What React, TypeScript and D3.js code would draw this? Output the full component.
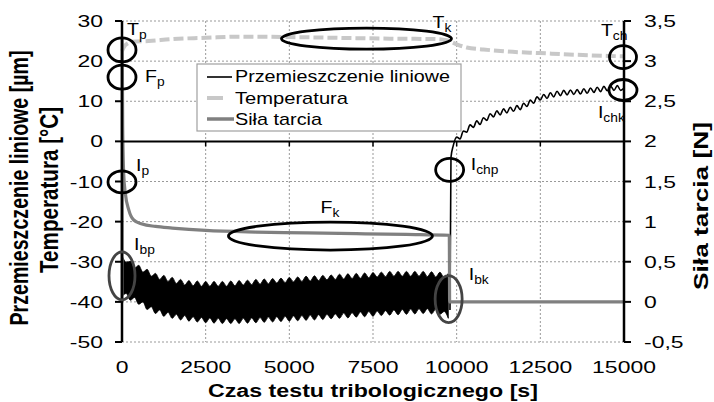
import React from 'react'
import * as d3 from 'd3'

// Przemieszczenie liniowe (µm) - pasmo oscylacji w czasie 0..9750 s, co 125 s
const bandStep = 125
const bandUpper = [
  -28.4, -30.1, -29.9, -31.6, -30.9, -32.6, -31.9, -33.6, -32.9, -34.4,
  -33.4, -34.9, -33.9, -35.4, -34.4, -35.8, -34.7, -36.0, -34.8, -36.1,
  -34.9, -36.1, -34.9, -36.1, -34.9, -36.1, -34.8, -36.0, -34.7, -35.8,
  -34.6, -35.7, -34.4, -35.6, -34.3, -35.5, -34.2, -35.3, -34.1, -35.2,
  -33.9, -35.0, -33.8, -34.9, -33.6, -34.8, -33.5, -34.7, -33.4, -34.5,
  -33.3, -34.4, -33.1, -34.3, -33.0, -34.2, -32.9, -34.1, -32.8, -34.0,
  -32.7, -33.8, -32.6, -33.7, -32.4, -33.6, -32.4, -33.6, -32.4, -33.6,
  -32.4, -33.6, -32.4, -33.7, -32.5, -33.8, -32.6, -34.0, -32.9,
]
const bandLower = [
  -38.6, -37.9, -39.6, -38.9, -40.6, -40.0, -41.9, -41.2, -42.9, -42.0,
  -43.6, -42.6, -44.1, -43.1, -44.5, -43.4, -44.8, -43.7, -45.0, -43.9,
  -45.2, -44.0, -45.3, -44.1, -45.4, -44.2, -45.4, -44.2, -45.4, -44.1,
  -45.3, -44.0, -45.2, -43.9, -45.1, -43.8, -45.0, -43.7, -44.9, -43.6,
  -44.8, -43.5, -44.7, -43.4, -44.6, -43.3, -44.5, -43.2, -44.4, -43.1,
  -44.2, -43.0, -44.1, -42.8, -44.0, -42.7, -43.8, -42.5, -43.7, -42.4,
  -43.6, -42.3, -43.4, -42.2, -43.3, -42.0, -43.2, -41.9, -43.1, -41.8,
  -43.0, -41.7, -42.9, -41.7, -43.0, -41.8, -43.1, -42.4, -44.1,
]

// skok i narastanie po zatrzymaniu (µm)
const jumpTimes = [9800, 9830, 9900]
const jumpValues = [-42, -4, -1]
const riseStart = 10000
const riseStep = 100
const riseValues = [
  1.1, 0.6, 2.6, 2.3, 4.1, 3.5, 5.1, 4.2, 5.9, 5.2,
  6.9, 6.1, 7.6, 6.6, 8.1, 7.1, 8.5, 7.5, 8.9, 7.9,
  9.5, 8.7, 10.3, 9.5, 11.1, 10.3, 11.7, 10.7, 12.1, 11.1,
  12.5, 11.4, 12.7, 11.6, 12.8, 11.7, 12.9, 11.8, 13.1, 12.0,
  13.3, 12.2, 13.5, 12.4, 13.7, 12.6, 13.8, 12.7, 13.9, 12.7,
  13.3,
]

// Temperatura (°C)
const tempTimes = [0, 100, 300, 800, 1500, 2500, 3500, 5000, 6500, 8000, 9300, 9700, 10000, 10300, 10800, 11500, 12500, 13500, 14500, 15000]
const tempValues = [22.5, 24.0, 24.8, 25.0, 25.5, 25.8, 26.1, 26.0, 25.8, 25.6, 25.5, 25.2, 24.2, 23.4, 22.9, 22.4, 22.0, 21.6, 21.3, 21.2]

// Siła tarcia (N)
const forceTimes = [0, 5, 20, 50, 100, 200, 350, 600, 1000, 1500, 2500, 4000, 5500, 7000, 8500, 9780, 9790, 15000]
const forceValues = [0, 3.3, 2.2, 1.6, 1.35, 1.15, 1.02, 0.97, 0.94, 0.92, 0.89, 0.87, 0.86, 0.85, 0.84, 0.83, 0, 0]

const xTicks = [0, 2500, 5000, 7500, 10000, 12500, 15000]
const leftTicks = [-50, -40, -30, -20, -10, 0, 10, 20, 30]
const rightTicks = [-0.5, 0, 0.5, 1, 1.5, 2, 2.5, 3, 3.5]

const legendLabels = ['Przemieszczenie liniowe', 'Temperatura', 'Siła tarcia']

// adnotacje: [litera, indeks, t, wartość (oś lewa), rx, ry, t etykiety, wartość etykiety, kolor]
const notes: [string, string, number, number, number, number, number, number, string][] = [
  ['T', 'p', 0, 22.8, 14, 12, 150, 26.5, '#000'],
  ['F', 'p', 0, 16.0, 14, 12, 690, 14.8, '#000'],
  ['I', 'p', 0, -10.1, 14, 11, 420, -7.4, '#000'],
  ['I', 'bp', 0, -33.5, 13, 24, 360, -27.1, '#444'],
  ['T', 'k', 7305, 25.6, 85, 10.5, 9280, 28.3, '#000'],
  ['F', 'k', 6228, -23.6, 102, 14, 5930, -17.9, '#000'],
  ['I', 'chp', 9790, -7.1, 14, 11.5, 10420, -7.1, '#000'],
  ['I', 'bk', 9760, -39.3, 13.5, 23.5, 10360, -34.5, '#444'],
  ['T', 'ch', 14970, 21.0, 13.5, 11.5, 14310, 26.3, '#000'],
  ['I', 'chk', 14970, 12.8, 14, 10.5, 14220, 5.8, '#000'],
]

const W = 714
const H = 402
const font = '"Liberation Sans", Arial, sans-serif'

export default function App() {
  const x = d3.scaleLinear().domain([0, 15000]).range([122, 624])
  const yL = d3.scaleLinear().domain([-50, 30]).range([342, 21])
  const yR = d3.scaleLinear().domain([-0.5, 3.5]).range([342, 21])

  const bandTimes = bandUpper.map((_, i) => i * bandStep)
  const band = d3.area<number>()
    .x(i => x(bandTimes[i]))
    .y0(i => yL(bandLower[i]))
    .y1(i => yL(bandUpper[i]))
    .curve(d3.curveMonotoneX)(d3.range(bandUpper.length))

  const riseTimes = riseValues.map((_, i) => riseStart + i * riseStep)
  const risePts: [number, number][] = [
    ...jumpTimes.map((t, i) => [t, jumpValues[i]] as [number, number]),
    ...riseTimes.map((t, i) => [t, riseValues[i]] as [number, number]),
  ]
  const riseLine = d3.line<[number, number]>()
    .x(d => x(d[0]))
    .y(d => yL(d[1]))
    .curve(d3.curveMonotoneX)(risePts)

  const tempLine = d3.line<number>()
    .x(i => x(tempTimes[i]))
    .y(i => yL(tempValues[i]))
    .curve(d3.curveMonotoneX)(d3.range(tempTimes.length))

  const forceLine = d3.line<number>()
    .x(i => x(forceTimes[i]))
    .y(i => yR(forceValues[i]))
    .curve(d3.curveMonotoneX)(d3.range(forceTimes.length))

  const x0 = x(0), x1 = x(15000), yTop = yL(30), yBot = yL(-50), yZero = yL(0)

  return (
    <svg width={W} height={H} style={{ position: 'absolute', left: 0, top: 0, background: '#fff' }} fontFamily={font}>
      {/* siatka */}
      <g stroke="#999" strokeWidth={1} strokeDasharray="2,2">
        {xTicks.filter(t => t > 0 && t < 15000).map(t => (
          <line key={'gx' + t} x1={x(t)} x2={x(t)} y1={yTop} y2={yBot} />
        ))}
        {leftTicks.filter(v => v !== 0).map(v => (
          <line key={'gy' + v} x1={x0} x2={x1} y1={yL(v)} y2={yL(v)} />
        ))}
      </g>

      {/* serie */}
      <path d={band || ''} fill="#000" stroke="#000" strokeWidth={0.8} />
      <path d={riseLine || ''} fill="none" stroke="#000" strokeWidth={1.6} />
      <path d={tempLine || ''} fill="none" stroke="#c8c8c8" strokeWidth={4} strokeDasharray="10,4" />
      <path d={forceLine || ''} fill="none" stroke="#808080" strokeWidth={3.2} />

      {/* osie */}
      <g stroke="#000">
        <line x1={x0} x2={x1} y1={yZero} y2={yZero} strokeWidth={2} />
        {xTicks.filter(t => t > 0 && t < 15000).map(t => (
          <line key={'tx' + t} x1={x(t)} x2={x(t)} y1={yZero} y2={yZero + 5} strokeWidth={1.5} />
        ))}
        <line x1={x0} x2={x0} y1={yTop} y2={yBot} strokeWidth={2.5} />
        <line x1={x1} x2={x1} y1={yTop} y2={yBot} strokeWidth={2.5} />
        {leftTicks.map(v => (
          <line key={'tl' + v} x1={x0 - 7} x2={x0} y1={yL(v)} y2={yL(v)} strokeWidth={2} />
        ))}
        {rightTicks.map(v => (
          <line key={'tr' + v} x1={x1} x2={x1 + 7} y1={yR(v)} y2={yR(v)} strokeWidth={2} />
        ))}
      </g>

      {/* etykiety osi */}
      <g fontSize={17} fill="#000">
        {leftTicks.map(v => (
          <text key={'ll' + v} transform={`translate(103,${yL(v) + 6}) scale(1.35,1)`} textAnchor="end">{String(v)}</text>
        ))}
        {rightTicks.map(v => (
          <text key={'rl' + v} transform={`translate(644,${yR(v) + 6}) scale(1.35,1)`}>{String(v).replace('.', ',')}</text>
        ))}
        {xTicks.map(t => (
          <text key={'xl' + t} transform={`translate(${x(t)},373) scale(1.35,1)`} textAnchor="middle">{String(t)}</text>
        ))}
      </g>

      <text x={208} y={397} fontSize={18} fontWeight="bold" textLength={330} lengthAdjust="spacingAndGlyphs">Czas testu tribologicznego [s]</text>
      <g fontSize={20} fontWeight="bold">
        <text transform="translate(28,188) rotate(-90) scale(1,1.25)" textAnchor="middle" textLength={275} lengthAdjust="spacingAndGlyphs">Przemieszczenie liniowe [µm]</text>
        <text transform="translate(58,190) rotate(-90) scale(1,1.25)" textAnchor="middle" textLength={166} lengthAdjust="spacingAndGlyphs">Temperatura [°C]</text>
        <text transform="translate(708,206) rotate(-90)" textAnchor="middle" textLength={168} lengthAdjust="spacingAndGlyphs">Siła tarcia [N]</text>
      </g>

      {/* adnotacje */}
      {notes.map(([letter, sub, t, v, rx, ry, lt, lv, col], i) => (
        <g key={'n' + i}>
          <ellipse cx={x(t)} cy={yL(v)} rx={rx} ry={ry} fill="none" stroke={col} strokeWidth={2.8} />
          <text transform={`translate(${x(lt)},${yL(lv)}) scale(1.15,1)`} fontSize={17}>
            {letter}
            <tspan fontSize={12} dy={4}>{sub}</tspan>
          </text>
        </g>
      ))}

      {/* legenda */}
      <g>
        <rect x={197} y={64} width={264} height={67} fill="#fff" stroke="#a0a0a0" strokeWidth={1.2} />
        <line x1={207} x2={232} y1={77} y2={77} stroke="#000" strokeWidth={1.6} />
        <line x1={207} x2={223} y1={98} y2={98} stroke="#c8c8c8" strokeWidth={4} />
        <line x1={207} x2={234} y1={119} y2={119} stroke="#808080" strokeWidth={3.5} />
        <text x={235} y={82} fontSize={17} textLength={215} lengthAdjust="spacingAndGlyphs">{legendLabels[0]}</text>
        <text x={235} y={103.5} fontSize={17} textLength={113} lengthAdjust="spacingAndGlyphs">{legendLabels[1]}</text>
        <text x={235} y={125} fontSize={17} textLength={87} lengthAdjust="spacingAndGlyphs">{legendLabels[2]}</text>
      </g>
    </svg>
  )
}
